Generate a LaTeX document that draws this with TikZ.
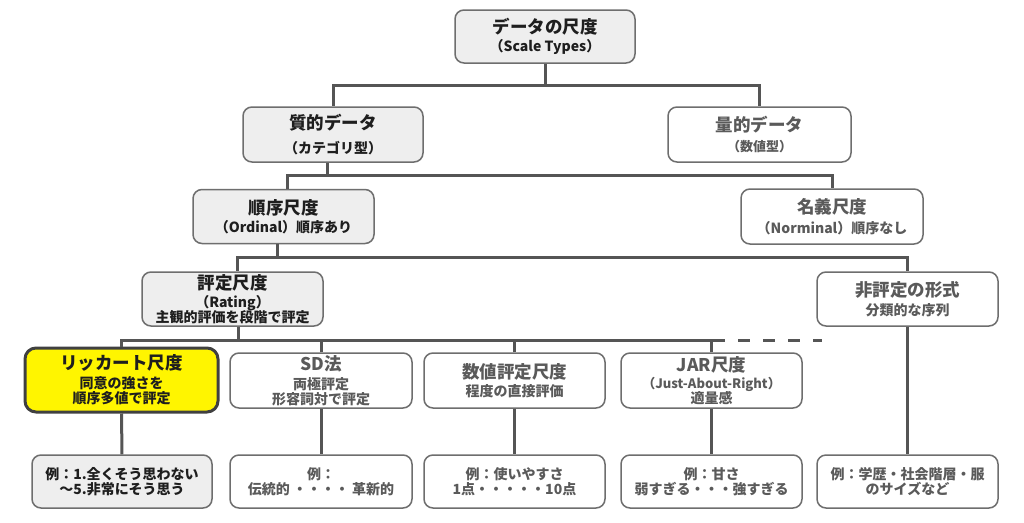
\documentclass[tikz,border=0pt]{standalone}
\usepackage{fontspec}
\setmainfont{Noto Sans CJK JP}
\definecolor{boxgray}{HTML}{EEEEEE}
\definecolor{boxline}{HTML}{6E6E6E}
\definecolor{conncol}{HTML}{555555}
\definecolor{txtdark}{HTML}{1E1E1E}
\definecolor{txtgray}{HTML}{5A5A5A}
\definecolor{likertyellow}{HTML}{FFF500}
\definecolor{likertline}{HTML}{404040}
\newcommand\ttlfont{\fontsize{17.5}{19}\selectfont}
\newcommand\subfont{\fontsize{14}{17}\selectfont}
\newcommand\jarfont{\fontsize{13}{17}\selectfont}
\begin{document}
\begin{tikzpicture}[x=1pt,y=-1pt,
  box/.style={draw=boxline, line width=1.5pt, rounded corners=9pt, align=center,
    inner sep=0pt, font=\bfseries\subfont},
  sz/.style 2 args={minimum width=#1pt, minimum height=#2pt},
  graybox/.style={box, fill=boxgray, text=txtdark},
  whitebox/.style={box, fill=white, text=txtgray},
  likertbox/.style={box, fill=likertyellow, text=txtdark, draw=likertline, line width=3pt, rounded corners=11pt},
  exfont/.style={font=\bfseries\fontsize{14}{17}\selectfont},
  conn/.style={draw=conncol, line width=3pt},
  dashconn/.style={conn, dash pattern=on 12pt off 13pt, dash phase=12pt}]
\useasboundingbox (0,0) rectangle (1024,522);
\fill[white] (0,0) rectangle (1024,522);

% level 0
\node[graybox, sz={180}{53}] (top) at (545,36.5) {{\ttlfont データの尺度}\\[1pt]（Scale Types）};
% level 1
\node[graybox, sz={180}{55}] (qual) at (333,134.5) {{\ttlfont 質的データ}\\[7pt]（カテゴリ型）};
\node[whitebox, sz={183}{55}] (quant) at (759.5,134.5) {{\ttlfont 量的データ}\\[3pt]{\fontsize{13}{17}\selectfont（数値型）}};
% level 2
\node[graybox, sz={181}{54}] (ord) at (283.5,216.5) {{\ttlfont 順序尺度}\\[1.5pt]（Ordinal）順序あり};
\node[whitebox, sz={182}{55}] (nom) at (832,216.5) {{\ttlfont 名義尺度}\\[2.5pt]（Norminal）順序なし};
% level 3
\node[graybox, sz={181}{54}] (rating) at (232.5,299) {{\ttlfont 評定尺度}\\[1pt]（Rating）\\[-1.5pt]主観的評価を段階で評定};
\node[whitebox, sz={181}{54}] (nonr) at (907.5,299) {{\ttlfont 非評定の形式}\\[1.5pt]分類的な序列};
% level 4
\node[likertbox, sz={193}{64}] (likert) at (121.5,380) {{\ttlfont リッカート尺度}\\[1.5pt]同意の強さを\\[-1.5pt]順序多値で評定};
\node[whitebox, sz={182}{55}] (sd) at (321,380.5) {{\ttlfont SD法}\\[2.5pt]両極評定\\[-2pt]形容詞対で評定};
\node[whitebox, sz={181}{55}] (num) at (514.5,380.5) {{\ttlfont 数値評定尺度}\\[1.5pt]程度の直接評価};
\node[whitebox, sz={181}{55}] (jar) at (711.5,380.5) {{\ttlfont JAR尺度}\\[0.5pt]{\jarfont（Just-About-Right）}\\[-2pt]適量感};
% level 5
\node[graybox, sz={180}{53}, exfont] (ex1) at (122,481.5) {例：1.全くそう思わない\\[-2pt]～5.非常にそう思う};
\node[whitebox, sz={182}{53}, exfont] (ex2) at (321,481.5) {例：\\[-2pt]伝統的 ・・・・ 革新的};
\node[whitebox, sz={181}{53}, exfont] (ex3) at (514.5,481.5) {例：使いやすさ\\[-2pt]1点・・・・・10点};
\node[whitebox, sz={181}{53}, exfont] (ex4) at (711.5,481.5) {例：甘さ\\[-2pt]弱すぎる・・・強すぎる};
\node[whitebox, sz={181}{53}, exfont] (ex5) at (907.5,481.5) {例：学歴・社会階層・服\\[-2pt]のサイズなど};

% connectors
\draw[conn] (top.south) -- ++(0,22) -| (qual.north);
\draw[conn] (top.south) ++(0,22) -| (quant.north);
\draw[conn] ([xshift=-6pt]qual.south) -- ++(0,13) -| ([xshift=3.5pt]ord.north);
\draw[conn] ([xshift=-6pt]qual.south) ++(0,13) -| (nom.north);
\draw[conn] ([xshift=-6pt]ord.south) -- ++(0,13.5) -| ([xshift=5pt]rating.north);
\draw[conn] ([xshift=-6pt]ord.south) ++(0,13.5) -| (nonr.north);
\coordinate (solidend) at (725,340);
\coordinate (dashend) at (822,340);
\draw[conn] ([xshift=5.5pt]rating.south) -- ([xshift=5.5pt]rating.south |- solidend);
\draw[conn] (likert.north) |- (solidend);
\draw[conn] (sd.north) -- (sd.north |- solidend);
\draw[conn] (num.north) -- (num.north |- solidend);
\draw[conn] (jar.north) -- (jar.north |- solidend);
\draw[dashconn] (solidend) -- (dashend);
\draw[conn] (likert.south) -- (ex1.north);
\draw[conn] (sd.south) -- (ex2.north);
\draw[conn] (num.south) -- (ex3.north);
\draw[conn] (jar.south) -- (ex4.north);
\draw[conn] (nonr.south) -- (ex5.north);
\end{tikzpicture}
\end{document}
